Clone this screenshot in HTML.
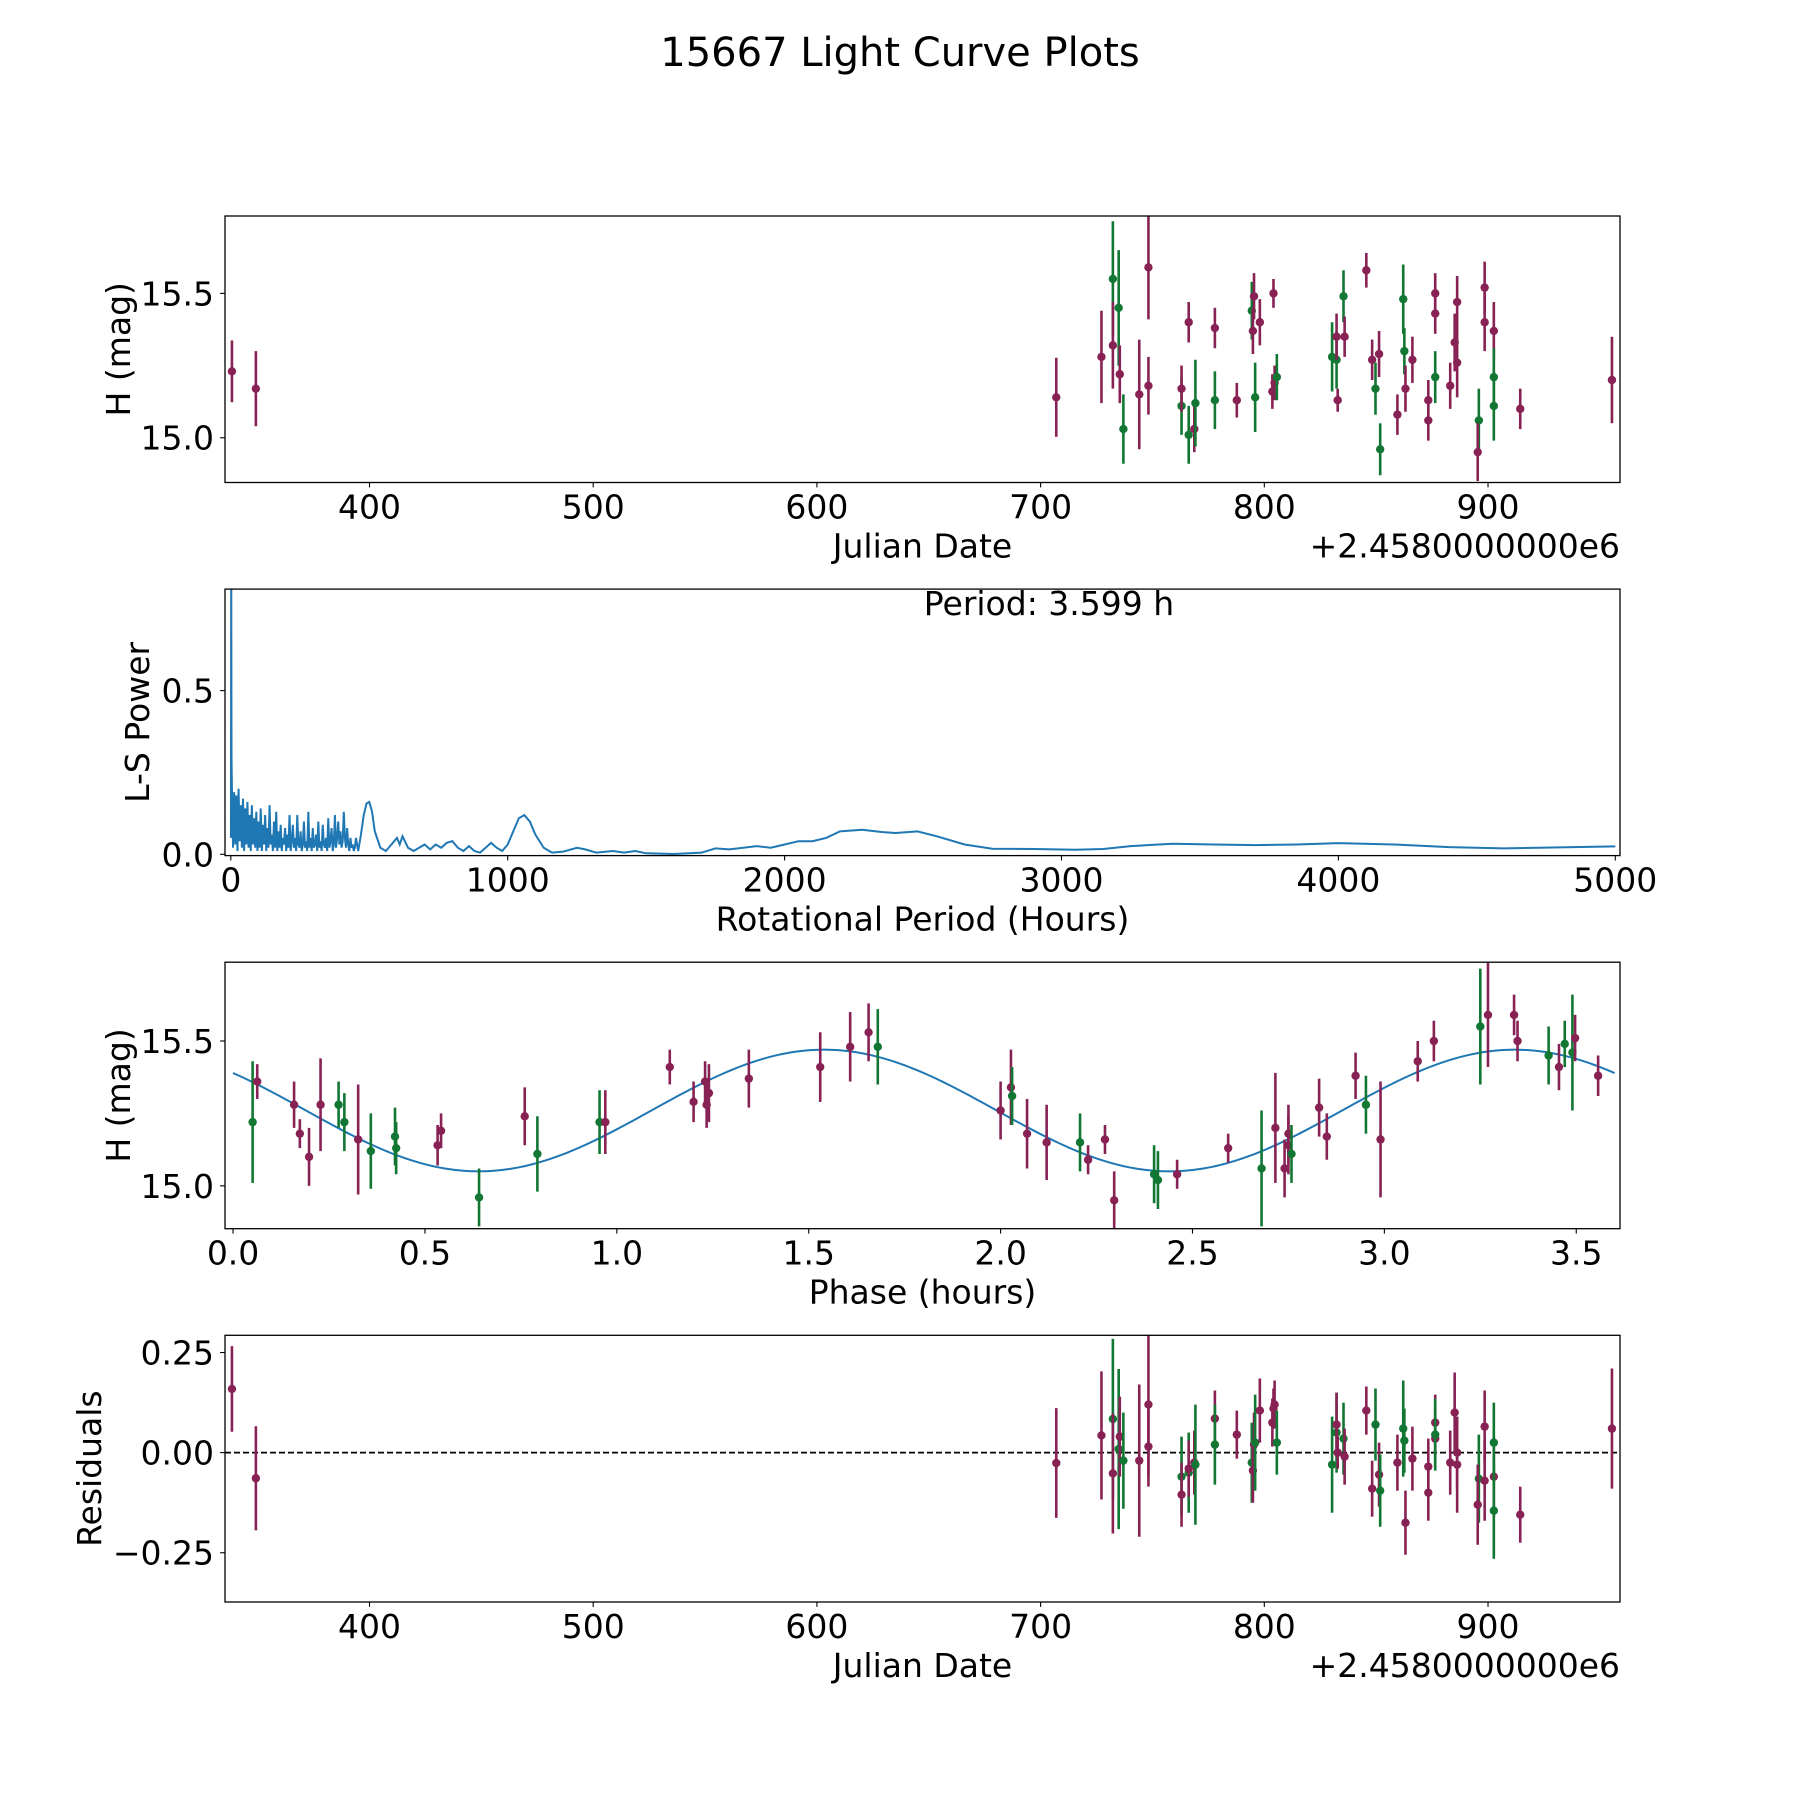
<!DOCTYPE html>
<html><head><meta charset="utf-8"><title>15667 Light Curve Plots</title>
<style>body{margin:0;background:#fff}svg{display:block}text{font-family:"DejaVu Sans","Liberation Sans",sans-serif;fill:#000}</style>
</head><body>
<svg id="fig" width="1800" height="1800" viewBox="0 0 1800 1800" xmlns="http://www.w3.org/2000/svg">
<rect width="1800" height="1800" fill="#fff"/>
<text x="900" y="66" font-size="40" text-anchor="middle">15667 Light Curve Plots</text>
</svg>
<script>
// ---------- data ----------
const jdVals=[338.5,349.2,707,727.2,732.3,732.3,734.9,735.4,737,744.1,748.2,748.2,763,763,766.2,766.2,768.7,769.2,777.9,777.9,787.7,794.4,795.4,794.9,795.9,798,803.6,804.1,804.6,805.6,830.3,832.3,832.3,832.8,835.4,835.9,845.6,848.2,849.7,851.3,851.8,859.5,862.1,862.6,863.1,866.2,873.3,873.3,876.4,876.4,876.4,883.1,885.1,886.2,886.2,895.9,895.4,898.5,898.5,902.6,902.6,902.6,914.4,955.4];
const magVals=[15.23,15.17,15.14,15.28,15.55,15.32,15.45,15.22,15.03,15.15,15.59,15.18,15.11,15.17,15.01,15.40,15.03,15.12,15.38,15.13,15.13,15.44,15.49,15.37,15.14,15.40,15.16,15.50,15.19,15.21,15.28,15.27,15.35,15.13,15.49,15.35,15.58,15.27,15.17,15.29,14.96,15.08,15.48,15.30,15.17,15.27,15.06,15.13,15.50,15.43,15.21,15.18,15.33,15.47,15.26,15.06,14.95,15.52,15.40,15.37,15.21,15.11,15.10,15.20];
const errVals=[0.107,0.13,0.137,0.16,0.2,0.15,0.2,0.1,0.12,0.19,0.18,0.1,0.1,0.08,0.1,0.07,0.08,0.15,0.07,0.1,0.06,0.1,0.08,0.08,0.12,0.08,0.06,0.05,0.06,0.08,0.12,0.1,0.08,0.04,0.09,0.07,0.06,0.07,0.09,0.08,0.09,0.07,0.12,0.08,0.08,0.08,0.07,0.07,0.07,0.07,0.09,0.08,0.1,0.09,0.12,0.11,0.1,0.09,0.1,0.1,0.1,0.12,0.07,0.15];
const bandVals="mmmmgmgmgmmmgmgmmgmgmgmmgmmmmgggmmgmmmgmgmggmmmmmmgmmmmgmmmmggmm".split("");
const residVals=[0.159,-0.064,-0.026,0.043,0.084,-0.052,0.009,0.04,-0.02,-0.02,0.12,0.015,-0.06,-0.105,-0.05,-0.04,-0.025,-0.03,0.085,0.02,0.045,-0.025,0.02,-0.045,0.025,0.105,0.075,0.11,0.12,0.025,-0.03,0.05,0.07,0.0,0.035,-0.01,0.105,-0.09,0.07,-0.055,-0.095,-0.025,0.06,0.03,-0.175,-0.015,-0.1,-0.035,0.075,0.035,0.045,-0.025,0.1,0.0,-0.03,-0.065,-0.13,0.065,-0.07,-0.06,0.025,-0.145,-0.155,0.06];
const phaseVals=[0.051,0.063,0.159,0.174,0.198,0.228,0.275,0.29,0.326,0.359,0.422,0.425,0.533,0.542,0.641,0.76,0.793,0.955,0.97,1.138,1.2,1.23,1.234,1.24,1.344,1.53,1.608,1.656,1.68,2.0,2.027,2.03,2.069,2.12,2.207,2.228,2.272,2.296,2.4,2.41,2.46,2.593,2.68,2.716,2.74,2.75,2.75,2.758,2.83,2.85,2.925,2.952,2.99,3.087,3.129,3.25,3.27,3.338,3.347,3.428,3.455,3.47,3.49,3.497,3.557];
const phaseMag=[15.22,15.36,15.28,15.18,15.10,15.28,15.28,15.22,15.16,15.12,15.17,15.13,15.14,15.19,14.96,15.24,15.11,15.22,15.22,15.41,15.29,15.36,15.28,15.32,15.37,15.41,15.48,15.53,15.48,15.26,15.34,15.31,15.18,15.15,15.15,15.09,15.16,14.95,15.04,15.02,15.04,15.13,15.06,15.20,15.06,15.18,15.14,15.11,15.27,15.17,15.38,15.28,15.16,15.43,15.50,15.55,15.59,15.59,15.50,15.45,15.41,15.49,15.46,15.51,15.38];
const phaseErr=[0.21,0.06,0.08,0.05,0.1,0.16,0.08,0.1,0.19,0.13,0.1,0.09,0.07,0.06,0.1,0.1,0.13,0.11,0.11,0.06,0.07,0.07,0.08,0.1,0.1,0.12,0.12,0.1,0.13,0.1,0.13,0.1,0.12,0.13,0.1,0.05,0.05,0.1,0.1,0.1,0.05,0.05,0.2,0.19,0.1,0.1,0.1,0.1,0.1,0.08,0.08,0.1,0.2,0.07,0.07,0.2,0.18,0.07,0.07,0.1,0.08,0.08,0.2,0.08,0.07];
const phaseBand="gmmmmmggmgggmmgmggmmmmmmmmmmgmmgmmgmmmggmmgmmmmgmmmgmmmgmmmgmggmm".split("");
const fitMean=15.26, fitAmp=0.21, fitPeak=1.54, fitHalfPeriod=1.8;
const periodLabel="Period: 3.599 h";
const lsNoise=[0.20,0.02,0.19,0.03,0.18,0.01,0.2,0.04,0.15,0.02,0.17,0.01,0.14,0.03,0.16,0.02,0.12,0.01,0.15,0.03,0.11,0.02,0.13,0.01,0.1,
0.02,0.14,0.01,0.09,0.03,0.12,0.01,0.08,0.02,0.15,0.03,0.06,0.01,0.1,0.02,0.13,0.01,0.07,0.02,0.09,0.01,0.05,0.03,0.08,0.01,
0.06,0.02,0.12,0.01,0.04,0.09,0.02,0.05,0.01,0.12,0.03,0.02,0.07,0.01,0.03,0.1,0.02,0.04,0.01,0.13,0.02,0.05,0.01,0.08,0.02,
0.03,0.06,0.01,0.1,0.02,0.04,0.01,0.09,0.03,0.02,0.05,0.01,0.11,0.02,0.04,0.08,0.01,0.03,0.12,0.02,0.05,0.1,0.03,0.07,0.02,
0.04,0.13,0.05,0.02,0.08,0.03,0.01,0.05,0.02,0.03,0.01,0.02,0.05,0.03,0.01];
const lsPeriodsSmooth=[0.5,1.5,2.5,470,480,490,500,510,520,540,560,580,600,610,620,640,660,680,700,720,740,760,780,800,820,840,860,880,900,920,940,960,980,1000,1020,1040,1060,1080,1100,1130,1160,1200,1250,1280,1320,1380,1420,1460,1500,1600,1700,1750,1800,1900,1950,2000,2050,2100,2150,2200,2280,2350,2400,2480,2550,2650,2750,2900,3050,3150,3250,3400,3550,3700,3850,4000,4200,4400,4600,4800,5000];
const lsPowerSmooth=[0.05,0.9,0.3,0.06,0.12,0.155,0.16,0.13,0.07,0.02,0.01,0.03,0.05,0.03,0.055,0.02,0.01,0.02,0.03,0.015,0.03,0.02,0.035,0.04,0.02,0.01,0.025,0.01,0.005,0.02,0.035,0.02,0.01,0.03,0.07,0.11,0.12,0.1,0.06,0.02,0.005,0.008,0.02,0.015,0.005,0.01,0.005,0.01,0.003,0.001,0.005,0.018,0.015,0.025,0.02,0.03,0.04,0.04,0.05,0.07,0.075,0.068,0.065,0.07,0.055,0.03,0.017,0.016,0.014,0.016,0.025,0.032,0.03,0.028,0.03,0.034,0.03,0.022,0.018,0.021,0.024];
const jdTicks=[400,500,600,700,800,900];
const magTicks=[15.0,15.5];
const lsXTicks=[0,1000,2000,3000,4000,5000];
const lsYTicks=[0.0,0.5];
const phaseTicks=[0.0,0.5,1.0,1.5,2.0,2.5,3.0,3.5];
const residTicks=[0.25,0.0,-0.25];

// ---------- drawing ----------
const NS="http://www.w3.org/2000/svg";
const svg=document.getElementById('fig');
const COL={m:'#882255',g:'#117733'};
const L=225,R=1620,FS=33;
function mk(tag,attrs,parent){const e=document.createElementNS(NS,tag);for(const k in attrs)e.setAttribute(k,attrs[k]);(parent||svg).appendChild(e);return e;}
function scale(d0,d1,p0,p1){return v=>p0+(v-d0)/(d1-d0)*(p1-p0);}
function fmt(v,dec){let s=v.toFixed(dec);return s.replace('-','\u2212');}
function makeAxes(name,top,bottom,xlim,ylim,xt,xdec,yt,ydec,xlabel,ylabel,ylabx,offset){
  const g=mk('g',{});
  
  
  const x=scale(xlim[0],xlim[1],L,R), y=scale(ylim[0],ylim[1],bottom,top);
  const cid='clip-'+name;
  const cp=mk('clipPath',{id:cid},g);mk('rect',{x:L,y:top,width:R-L,height:bottom-top},cp);
  const plot=mk('g',{'clip-path':'url(#'+cid+')'},g);
  
  
  xt.forEach(v=>{const px=x(v);mk('line',{x1:px,x2:px,y1:bottom,y2:bottom+4.9,stroke:'#000','stroke-width':1.1},g);
    const t=mk('text',{x:px,y:bottom+36,'font-size':FS,'text-anchor':'middle'},g);t.textContent=fmt(v,xdec);
    });
  yt.forEach(v=>{const py=y(v);mk('line',{x1:L-4.9,x2:L,y1:py,y2:py,stroke:'#000','stroke-width':1.1},g);
    const t=mk('text',{x:L-11,y:py+12,'font-size':FS,'text-anchor':'end'},g);t.textContent=fmt(v,ydec);
    });
  const xl=mk('text',{x:(L+R)/2,y:bottom+75,'font-size':FS,'text-anchor':'middle'},g);xl.textContent=xlabel;
  
  const cy=(top+bottom)/2;
  const yl=mk('text',{x:ylabx,y:cy+12,'font-size':FS,'text-anchor':'middle',transform:`rotate(-90 ${ylabx} ${cy})`},g);yl.textContent=ylabel;
  
  if(offset){const o=mk('text',{x:R,y:bottom+75,'font-size':FS,'text-anchor':'end'},g);o.textContent=offset;
    }
  return {g,plot,x,y,top,bottom};
}
function frame(a){mk('rect',{x:L,y:a.top,width:R-L,height:a.bottom-a.top,fill:'none',stroke:'#000','stroke-width':1.3},a.g);}
function errPts(a,xs,ys,es,bands,nm){
  xs.forEach((xv,i)=>{const c=COL[bands[i]];const px=a.x(xv);
    const l=mk('line',{x1:px,x2:px,y1:a.y(ys[i]-es[i]),y2:a.y(ys[i]+es[i]),stroke:c,'stroke-width':2.6},a.plot);
    
    const p=mk('circle',{cx:px,cy:a.y(ys[i]),r:4.2,fill:c},a.plot);
    });
}
const jdLim=[335.4,959], magLim=[14.845,15.768];
// Panel 1
const a1=makeAxes('light-curve-panel',216,482.5,jdLim,magLim,jdTicks,0,magTicks,1,'Julian Date','H (mag)',118,'+2.4580000000e6');
errPts(a1,jdVals,magVals,errVals,bandVals,'magnitude');frame(a1);
// Panel 2
const a2=makeAxes('periodogram-panel',589.1,855.6,[-21,5017],[-0.004,0.81],lsXTicks,0,lsYTicks,1,'Rotational Period (Hours)','L-S Power',137,null);
const tmp=lsPeriodsSmooth.map((p,i)=>[p,lsPowerSmooth[i]]);
lsNoise.forEach((v,i)=>tmp.push([4+i*4,v]));
tmp.sort((a,b)=>a[0]-b[0]);
const d=tmp.map((q,i)=>(i?'L':'M')+a2.x(q[0]).toFixed(2)+' '+a2.y(q[1]).toFixed(2)).join(' ');
const ls=mk('path',{d,fill:'none',stroke:'#1f77b4','stroke-width':2},a2.plot);

const pt=mk('text',{x:1049,y:615,'font-size':FS,'text-anchor':'middle'},a2.g);pt.textContent=periodLabel;

frame(a2);
// Panel 3
const a3=makeAxes('phase-folded-panel',962.2,1228.7,[-0.021,3.614],[14.852,15.772],phaseTicks,1,magTicks,1,'Phase (hours)','H (mag)',118,null);
let fd='';for(let i=0;i<=360;i++){const p=i*0.01;const v=fitMean+fitAmp*Math.cos(2*Math.PI*(p-fitPeak)/fitHalfPeriod);fd+=(i?'L':'M')+a3.x(p).toFixed(2)+' '+a3.y(v).toFixed(2)+' ';}
const fl=mk('path',{d:fd,fill:'none',stroke:'#1f77b4','stroke-width':2},a3.plot);

errPts(a3,phaseVals,phaseMag,phaseErr,phaseBand,'phased');frame(a3);
// Panel 4
const a4=makeAxes('residuals-panel',1335.3,1602,jdLim,[-0.373,0.293],jdTicks,0,residTicks,2,'Julian Date','Residuals',89,'+2.4580000000e6');
const zl=mk('line',{x1:L,x2:R,y1:a4.y(0),y2:a4.y(0),stroke:'#000','stroke-width':1.7,'stroke-dasharray':'6,3'},a4.plot);

errPts(a4,jdVals,residVals,errVals,bandVals,'residual');frame(a4);
</script>
</body></html>
